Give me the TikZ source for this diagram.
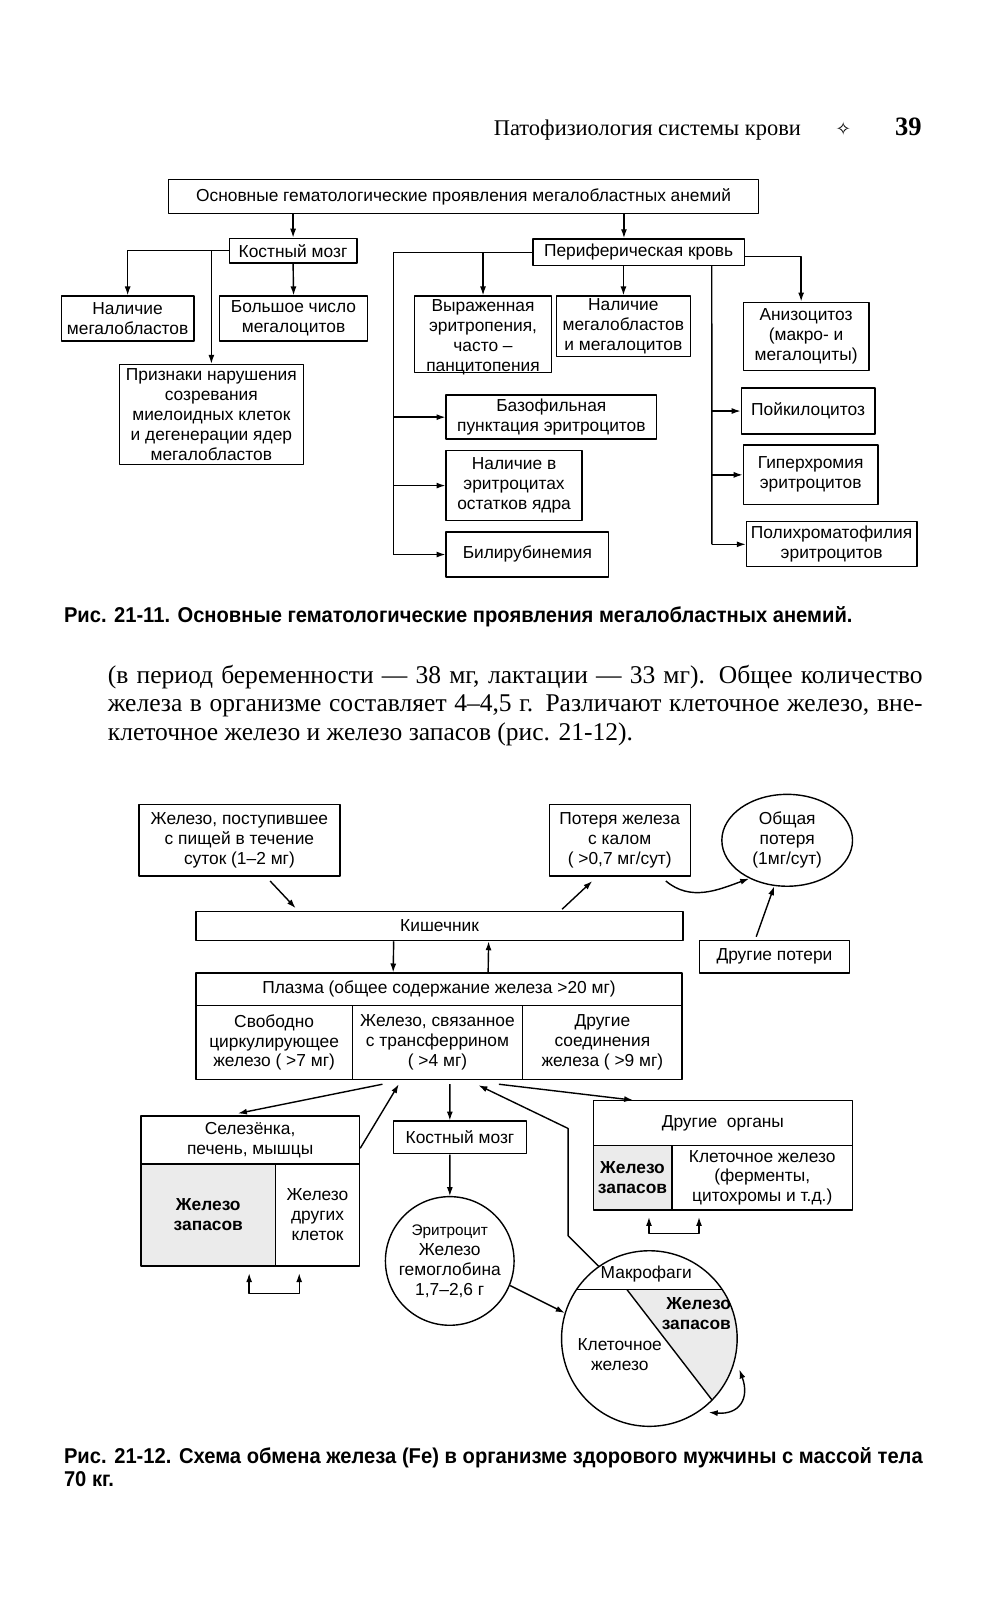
\documentclass[tikz,border=0pt]{standalone}
\usepackage{fontspec}
\setmainfont{Liberation Serif}
\newfontfamily\dgfont{Liberation Sans}
\newfontfamily\capfont[FakeStretch=0.94]{Liberation Sans}
\newfontfamily\symfont{DejaVu Sans}
\usetikzlibrary{arrows.meta,shapes.geometric}
\newcommand{\dgsize}{\dgfont\fontsize{17}{19.5}\selectfont}
\newcommand{\bodysize}{\fontsize{25}{28}\selectfont}
\newcommand{\capsize}{\capfont\bfseries\fontsize{21}{23}\selectfont}
\begin{document}
\begin{tikzpicture}[x=1pt,y=-1pt,scale=1.021,line join=round,>={Latex[length=9pt,width=6pt]},line width=1.4pt]
	\tikzset{every node/.append style={transform shape},
		box/.style={draw,inner sep=0pt,align=center,font=\dgsize},
		bx/.style 2 args={box,minimum width=#1pt,minimum height=#2pt},
		stip/.style={fill=black!8},
		bold/.style={font=\dgsize\bfseries}}
	\fill[white] (0,0) rectangle (986.29,1567.09);
	\useasboundingbox (0,0) rectangle (986.29,1567.09);
	% page head
	\node[anchor=base west,font=\fontsize{22}{26}\selectfont,inner sep=0] (head) at (483,133) {Патофизиология системы крови};
	\node[font=\symfont\fontsize{18}{20}\selectfont,inner sep=0] (star) at (826,126) {✧};
	\node[anchor=base west,font=\fontsize{26}{30}\selectfont\bfseries,inner sep=0] (pnum) at (876,133) {39};
	% fig 21-11
	\node[bx={578}{33}] (title) at (454,192.5) {Основные гематологические проявления мегалобластных анемий};
	\node[bx={125}{24}] (km) at (287,245.5) {Костный мозг};
	\node[bx={130}{44}] (nal) at (125,312) {Наличие\\мегалобластов};
	\node[bx={145}{44}] (bol) at (287.5,312) {Большое число\\мегалоцитов};
	\node[bx={180}{98}] (priz) at (207,406) {Признаки нарушения\\созревания\\миелоидных клеток\\и дегенерации ядер\\мегалобластов};
	\node[bx={207}{26}] (pk) at (625.5,247) {Периферическая кровь};
	\node[bx={134}{75}] (vyr) at (473,327.5) {};
	\node[font=\dgsize,align=center,inner sep=0] (vyrt) at ([yshift=-3pt]vyr.center) {Выраженная\\эритропения,\\часто –\\панцитопения};
	\node[bx={131}{59}] (nmm) at (610.5,319.5) {Наличие\\мегалобластов\\и мегалоцитов};
	\node[bx={123}{67}] (aniz) at (789.5,329.5) {Анизоцитоз\\(макро- и\\мегалоциты)};
	\node[bx={206}{43}] (baz) at (540,408.5) {Базофильная\\пунктация эритроцитов};
	\node[bx={133}{69}] (ost) at (503.5,475.5) {Наличие в\\эритроцитах\\остатков ядра};
	\node[bx={159}{44}] (bil) at (516.5,543) {Билирубинемия};
	\node[bx={131}{45}] (poik) at (791.5,402.5) {Пойкилоцитоз};
	\node[bx={132}{58}] (giper) at (794,465) {Гиперхромия\\эритроцитов};
	\node[bx={167}{44}] (poly) at (814.5,533) {Полихроматофилия\\эритроцитов};
	\draw[->] (title.south -| km.north) -- (km.north);
	\draw[->] ([xshift=-14.5pt]pk.north |- title.south) -- ([xshift=-14.5pt]pk.north);
	\draw[->] (km.west) -| (nal.north);
	\draw[->] (km.west -| priz.north) -- (priz.north);
	\draw[->] (km.south) -- (bol.north);
	\coordinate (lbus) at ([xshift=-51pt]bil.west);
	\draw (pk.west) -| (lbus);
	\draw[->] (pk.west -| vyr.north) -- (vyr.north);
	\draw[->] (pk.south -| nmm.north) -- (nmm.north);
	\draw[->] ([yshift=-4pt]pk.east) -| ([xshift=-5pt]aniz.north);
	\foreach \n in {baz,ost,bil}
	\draw[->] (lbus |- \n.west) -- (\n.west);
	\coordinate (rbus) at ([xshift=71.5pt]pk.south |- poly.west);
	\draw ([xshift=71.5pt]pk.south) -- (rbus);
	\foreach \n in {poik,giper,poly}
	\draw[->] (rbus |- \n.west) -- (\n.west);
	\node[anchor=base west,font=\capsize,inner sep=0] (cap1) at (62,610) {Рис. 21-11. Основные гематологические проявления мегалобластных анемий.};
	% text
	\node[anchor=base west,font=\bodysize,inner sep=0] (txt1) at (105,669) {\makebox[798pt][s]{(в период беременности — 38 мг, лактации — 33 мг). Общее количество}};
	\node[anchor=base west,font=\bodysize,inner sep=0] (txt2) at (105,697) {\makebox[798pt][s]{железа в организме составляет 4–4,5 г. Различают клеточное железо, вне-}};
	\node[anchor=base west,font=\bodysize,inner sep=0] (txt3) at (105,725) {клеточное железо и железо запасов (рис. 21-12).};
	% fig 21-12
	\node[bx={197}{70}] (food) at (234.5,823) {Железо, поступившее\\с пищей в течение\\суток (1–2 мг)};
	\node[bx={138}{70}] (loss) at (607,823) {Потеря железа\\с калом\\( >0,7 мг/сут)};
	\node[box,ellipse,minimum width=128pt,minimum height=90pt] (total) at (771,823) {Общая\\потеря\\(1мг/сут)};
	\node[bx={477}{28}] (kish) at (430.5,907) {Кишечник};
	\node[bx={147}{32}] (oth) at (758.5,937) {Другие потери};
	\node[bx={476}{32}] (pl) at (430,969) {Плазма (общее содержание железа >20 мг)};
	\node[bx={153}{72}] (c1) at (268.5,1021) {Свободно\\циркулирующее\\железо ( >7 мг)};
	\node[bx={167}{72}] (c2) at (428.5,1021) {Железо, связанное\\с трансферрином\\( >4 мг)};
	\node[bx={156}{72}] (c3) at (590,1021) {Другие\\соединения\\железа ( >9 мг)};
	\node[bx={214}{47}] (selh) at (245,1116.5) {Селезёнка,\\печень, мышцы};
	\node[bx={132}{100},stip,bold] (sell) at (204,1190) {Железо\\запасов};
	\node[bx={82}{100}] (selr) at (311,1190) {Железо\\других\\клеток};
	\node[bx={130}{32}] (km2) at (450.5,1114) {Костный мозг};
	\node[box,circle,minimum size=126pt] (er) at (440.5,1235) {{\dgfont\fontsize{15}{19.5}\selectfont Эритроцит}\\Железо\\гемоглобина\\1,7–2,6 г};
	\node[bx={254}{44}] (orgh) at (708,1100) {Другие\ \ органы};
	\node[bx={77}{63},stip,bold] (orgl) at (619.5,1153.5) {Железо\\запасов};
	\node[bx={177}{63}] (orgr) at (746.5,1153.5) {Клеточное железо\\(ферменты,\\цитохромы и т.д.)};
	% macrophage
	\begin{scope}
		\clip (636,1311) circle (86);
		\fill[stip] (614,1263) -- (760,1263) -- (760,1420) -- (735,1420) -- cycle;
		\draw (500,1263) -- (780,1263);
		\draw (614,1263) -- (735,1420);
	\end{scope}
	\node[box,circle,minimum size=172pt] (mac) at (636,1311) {};
	\node[font=\dgsize,inner sep=0] (macl) at (633,1248) {Макрофаги};
	\node[font=\dgsize\bfseries,inner sep=0,align=right] (macz) at (682,1287) {Железо\\запасов};
	\node[font=\dgsize,inner sep=0,align=center] (macc) at (607,1327) {Клеточное\\железо};
	% connectors
	\draw[->] ([xshift=30pt,yshift=-4pt]food.south) -- ([xshift=-141pt,yshift=3pt]kish.north);
	\draw[->] ([xshift=120pt,yshift=2pt]kish.north) -- ([xshift=-27pt,yshift=-4pt]loss.south);
	\draw[->] ([xshift=45pt,yshift=-4pt]loss.south) to[out=-40,in=200] (total.225);
	\draw[->] ([xshift=-18pt,yshift=3pt]oth.north) -- (total.254);
	\draw[->] ([xshift=-45pt]kish.south) -- ([xshift=-45pt]pl.north);
	\draw[->] ([xshift=48pt]pl.north) -- ([xshift=48pt]kish.south);
	\draw[->] ([xshift=-54pt,yshift=-4pt]c2.south) -- ([xshift=-12pt,yshift=2pt]selh.north);
	\draw[->] ([yshift=-8pt]selh.east) -- ([xshift=-38pt,yshift=-4pt]c2.south);
	\draw[->] ([xshift=12pt,yshift=-4pt]c2.south) -- ([xshift=-10pt]km2.north);
	\draw[->] ([xshift=-10pt]km2.south) -- (er.north);
	\draw[->] (er.-22) -- (mac.163);
	\draw[->] (mac.125) -- ++(-30,-30) -- ++(0,-105) -- ([xshift=40pt,yshift=-5pt]c2.south);
	\draw[->] ([xshift=60pt,yshift=-4pt]c2.south) -- ([xshift=-88pt]orgh.north);
	\draw[<->] ([xshift=40pt,yshift=-6pt]sell.south) -- ++(0,20) -| ([xshift=-18pt,yshift=-6pt]selr.south);
	\draw[<->] ([xshift=16pt,yshift=-6pt]orgl.south) -- ++(0,16) -| ([xshift=-62pt,yshift=-6pt]orgr.south);
	\coordinate (loopa) at (694,1383);
	\coordinate (loopb) at (724,1341);
	\draw[<->] (loopa) to[out=-5,in=-70,looseness=1.5] (loopb);
	\node[anchor=base west,font=\capsize,inner sep=0] (cap2) at (62,1433) {\makebox[841pt][s]{Рис. 21-12. Схема обмена железа (Fe) в организме здорового мужчины с массой тела}};
	\node[anchor=base west,font=\capsize,inner sep=0] (cap2b) at (62,1456) {70 кг.};
\end{tikzpicture}
\end{document}
